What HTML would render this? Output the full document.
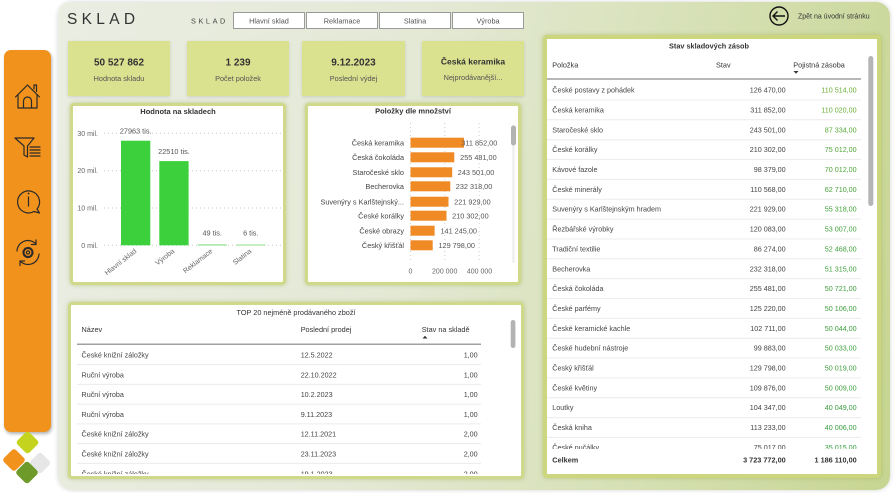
<!DOCTYPE html>
<html><head><meta charset="utf-8">
<style>
html,body{margin:0;padding:0;background:#fff;}
body{width:894px;height:493px;position:relative;overflow:hidden;font-family:"Liberation Sans",sans-serif;}
.abs{position:absolute;box-sizing:border-box;}
#main{left:58px;top:2px;width:832px;height:488px;border-radius:14px;background:linear-gradient(100deg,#eaede2 0%,#e4e9d6 40%,#d6e0b4 72%,#c7d592 100%);box-shadow:0 0 5px rgba(0,0,0,.18);}
#side{left:4px;top:50px;width:47px;height:382px;border-radius:7px;background:#f0921c;box-shadow:1px 2px 3px rgba(0,0,0,.3);}
.kpi{top:41px;height:55px;background:#dae18f;box-shadow:0 1px 3px rgba(0,0,0,.12);}
.pan{background:#fff;border:3px solid #d0d98a;border-radius:4px;box-shadow:0 0 4px rgba(140,160,50,.45);}
.btn{top:12px;height:17px;background:#fff;border:1px solid #9a9a9a;}
svg{position:absolute;left:0;top:0;}
</style></head><body>
<div class="abs" id="main"></div>
<div class="abs" id="side"></div>
<div class="abs kpi" style="left:68px;width:102px;"></div>
<div class="abs kpi" style="left:187px;width:102px;"></div>
<div class="abs kpi" style="left:302px;width:103px;"></div>
<div class="abs kpi" style="left:422px;width:102px;"></div>
<div class="abs btn" style="left:233px;width:72px;"></div>
<div class="abs btn" style="left:306px;width:72px;"></div>
<div class="abs btn" style="left:379px;width:72px;"></div>
<div class="abs btn" style="left:452px;width:72px;"></div>
<div class="abs pan" style="left:70px;top:103px;width:216px;height:182px;"></div>
<div class="abs pan" style="left:305px;top:103px;width:216px;height:182px;"></div>
<div class="abs pan" style="left:68px;top:302px;width:456px;height:177px;"></div>
<div class="abs pan" style="left:543px;top:35px;width:338px;height:443px;border-width:4px;border-color:#cbd67f;"></div>

<svg width="894" height="493" viewBox="0 0 894 493" font-family="Liberation Sans, sans-serif">
<defs>
<clipPath id="c1"><rect x="70" y="345" width="450" height="129"/></clipPath>
<clipPath id="c2"><rect x="545" y="80" width="330" height="369"/></clipPath>
</defs>

<!-- sidebar icons -->
<g fill="none" stroke="#2a2a2a" stroke-width="1.2" stroke-linejoin="round" stroke-linecap="round">
<path d="M15.5,97 L27.5,85 L39.5,97"/>
<path d="M18,95 V108 H37 V95"/>
<path d="M23.5,108 V101 a4,4 0 0 1 8,0 V108"/>
<path d="M34,89 V85 H36.5 V91.5"/>
<path d="M15,138 H34 L27.5,146 V157 L24,155 V146 Z"/>
<path d="M30,147 H40 M30,150 H40 M30,153 H40 M30,156 H40"/>
<path d="M37,209 A11,11 0 1 0 34,211.5 L39.5,213 Z"/>
<path d="M28.5,197 V206"/>
<path d="M17,251 A11,11 0 0 1 36,244"/><path d="M36,240 V244.5 H31.5"/>
<path d="M39,254 A11,11 0 0 1 20,261"/><path d="M20,265.5 V261 H24.5"/>
<circle cx="28" cy="252.5" r="4.5" stroke-dasharray="2 1.5" stroke-width="2.2"/>
<circle cx="28" cy="252.5" r="1.6"/>
</g>
<circle cx="28.5" cy="193.5" r="0.9" fill="#2a2a2a"/>

<!-- logo -->
<g>
<rect x="-8" y="-8" width="16" height="16" rx="3" fill="#e6e6e6" transform="translate(40,463) rotate(45)"/>
<rect x="-8.5" y="-8.5" width="17" height="17" rx="3" fill="#f0921c" transform="translate(14,460) rotate(45)"/>
<rect x="-8.5" y="-8.5" width="17" height="17" rx="3" fill="#c4d41e" transform="translate(27.5,442.5) rotate(45)"/>
<rect x="-8.5" y="-8.5" width="17" height="17" rx="3" fill="#6e9a2a" transform="translate(27,472.5) rotate(45)"/>
</g>

<!-- header -->
<text x="67" y="24" font-size="15.5" letter-spacing="4.3" fill="#333">SKLAD</text>
<text x="191" y="23.3" font-size="7.3" letter-spacing="2.6" fill="#444">SKLAD</text>
<g font-size="7.3" fill="#555" text-anchor="middle">
<text x="269" y="23.5">Hlavní sklad</text>
<text x="342" y="23.5">Reklamace</text>
<text x="415" y="23.5">Slatina</text>
<text x="488" y="23.5">Výroba</text>
</g>
<circle cx="779" cy="16" r="9" fill="none" stroke="#111" stroke-width="1.4"/>
<path d="M785,16 H773.5 M777.5,11.5 L773,16 L777.5,20.5" fill="none" stroke="#111" stroke-width="1.4"/>
<text x="798" y="18.5" font-size="7" fill="#333">Zpět na úvodní stránku</text>

<!-- KPI -->
<g text-anchor="middle">
<text x="119" y="65.5" font-size="10" font-weight="bold" fill="#333">50 527 862</text>
<text x="119" y="81" font-size="7.3" fill="#555">Hodnota skladu</text>
<text x="238" y="65.5" font-size="10" font-weight="bold" fill="#333">1 239</text>
<text x="238" y="81" font-size="7.3" fill="#555">Počet položek</text>
<text x="353.5" y="65.5" font-size="10" font-weight="bold" fill="#333">9.12.2023</text>
<text x="353.5" y="81" font-size="7.3" fill="#555">Poslední výdej</text>
<text x="473" y="64.5" font-size="8.5" font-weight="bold" fill="#333">Česká keramika</text>
<text x="473" y="80" font-size="7.3" fill="#555">Nejprodávanější...</text>
</g>

<!-- chart 1 -->
<text x="178" y="114" font-size="7.5" font-weight="bold" fill="#333" text-anchor="middle">Hodnota na skladech</text>
<g stroke="#c8c8c8" stroke-dasharray="1 3" stroke-width="1">
<line x1="104" y1="133.3" x2="282" y2="133.3"/>
<line x1="104" y1="170.7" x2="282" y2="170.7"/>
<line x1="104" y1="208" x2="282" y2="208"/>
<line x1="104" y1="245.3" x2="282" y2="245.3"/>
</g>
<g font-size="7" fill="#666" text-anchor="end">
<text x="98" y="135.8">30 mil.</text>
<text x="98" y="173.2">20 mil.</text>
<text x="98" y="210.5">10 mil.</text>
<text x="98" y="247.8">0 mil.</text>
</g>
<g fill="#3cd13c">
<rect x="121" y="140.7" width="29.3" height="104.6"/>
<rect x="159.3" y="161.1" width="29.3" height="84.2"/>
</g>
<g fill="#8fe08f">
<rect x="197.7" y="244.3" width="29" height="1.2"/>
<rect x="236.3" y="244.5" width="29" height="1"/>
</g>
<g font-size="7.3" fill="#555" text-anchor="middle">
<text x="135.7" y="133.7">27963 tis.</text>
<text x="174" y="154.2">22510 tis.</text>
<text x="212.2" y="235.7">49 tis.</text>
<text x="250.8" y="235.7">6 tis.</text>
</g>
<g font-size="7" fill="#666" text-anchor="end">
<text transform="translate(137,252) rotate(-38)">Hlavní sklad</text>
<text transform="translate(175,252) rotate(-38)">Výroba</text>
<text transform="translate(213,252) rotate(-38)">Reklamace</text>
<text transform="translate(252,252) rotate(-38)">Slatina</text>
</g>

<!-- chart 2 -->
<text x="413" y="113.5" font-size="7.5" font-weight="bold" fill="#333" text-anchor="middle">Položky dle množství</text>
<g stroke="#cfcfcf" stroke-dasharray="1 3">
<line x1="410.5" y1="123" x2="410.5" y2="263"/>
<line x1="444.7" y1="123" x2="444.7" y2="263"/>
<line x1="479.2" y1="123" x2="479.2" y2="263"/>
</g>
<g fill="#f08a24">
<rect x="410.5" y="137.7" width="53.5" height="10"/>
<rect x="410.5" y="152.3" width="43.8" height="10"/>
<rect x="410.5" y="167.3" width="41.7" height="10"/>
<rect x="410.5" y="181.3" width="39.8" height="10"/>
<rect x="410.5" y="196.7" width="38" height="10"/>
<rect x="410.5" y="210.7" width="36" height="10"/>
<rect x="410.5" y="225.7" width="24.1" height="10"/>
<rect x="410.5" y="240.3" width="22.2" height="10"/>
</g>
<g font-size="7.3" fill="#444" text-anchor="end">
<text x="404" y="145.3">Česká keramika</text>
<text x="404" y="159.9">Česká čokoláda</text>
<text x="404" y="174.9">Staročeské sklo</text>
<text x="404" y="188.9">Becherovka</text>
<text x="404" y="204.3">Suvenýry s Karlštejnský...</text>
<text x="404" y="218.3">České korálky</text>
<text x="404" y="233.3">České obrazy</text>
<text x="404" y="247.9">Český křišťál</text>
</g>
<g font-size="7.3" fill="#555" text-anchor="end">
<text x="497.3" y="145.3">311 852,00</text>
<text x="496.7" y="159.9">255 481,00</text>
<text x="494.3" y="174.9">243 501,00</text>
<text x="492.3" y="188.9">232 318,00</text>
<text x="490.7" y="204.3">221 929,00</text>
<text x="488.7" y="218.3">210 302,00</text>
<text x="477" y="233.3">141 245,00</text>
<text x="475" y="247.9">129 798,00</text>
</g>
<g font-size="7" fill="#666" text-anchor="middle">
<text x="410.5" y="273.3">0</text>
<text x="444.7" y="273.3">200 000</text>
<text x="479.5" y="273.3">400 000</text>
</g>
<rect x="512.2" y="125" width="2.5" height="138" rx="1" fill="#efefef"/>
<rect x="511" y="125.5" width="5" height="20" rx="2.5" fill="#b3b3b3"/>

<!-- TOP 20 table -->
<text x="296" y="314.8" font-size="7.3" fill="#333" text-anchor="middle">TOP 20 nejméně prodávaného zboží</text>
<g font-size="7.3" fill="#333">
<text x="81.5" y="331.8">Název</text>
<text x="300.7" y="331.8">Poslední prodej</text>
<text x="421.7" y="331.8">Stav na skladě</text>
</g>
<path d="M422.5,338.5 L425,335.8 L427.5,338.5 Z" fill="#333"/>
<line x1="77" y1="344.3" x2="481" y2="344.3" stroke="#a0a0a0" stroke-width="1.5"/>
<g stroke="#ececec" stroke-width="1">
<line x1="77" y1="364.6" x2="481" y2="364.6"/>
<line x1="77" y1="384.4" x2="481" y2="384.4"/>
<line x1="77" y1="404.1" x2="481" y2="404.1"/>
<line x1="77" y1="423.9" x2="481" y2="423.9"/>
<line x1="77" y1="443.6" x2="481" y2="443.6"/>
<line x1="77" y1="463.4" x2="481" y2="463.4"/>
</g>
<g font-size="7.2" fill="#444" clip-path="url(#c1)">
<text x="81.5" y="357.6">České knižní záložky</text><text x="300.7" y="357.6">12.5.2022</text><text x="477.7" y="357.6" text-anchor="end">1,00</text>
<text x="81.5" y="377.4">Ruční výroba</text><text x="300.7" y="377.4">22.10.2022</text><text x="477.7" y="377.4" text-anchor="end">1,00</text>
<text x="81.5" y="397.1">Ruční výroba</text><text x="300.7" y="397.1">10.2.2023</text><text x="477.7" y="397.1" text-anchor="end">1,00</text>
<text x="81.5" y="416.9">Ruční výroba</text><text x="300.7" y="416.9">9.11.2023</text><text x="477.7" y="416.9" text-anchor="end">1,00</text>
<text x="81.5" y="436.6">České knižní záložky</text><text x="300.7" y="436.6">12.11.2021</text><text x="477.7" y="436.6" text-anchor="end">2,00</text>
<text x="81.5" y="456.4">České knižní záložky</text><text x="300.7" y="456.4">23.11.2023</text><text x="477.7" y="456.4" text-anchor="end">2,00</text>
<text x="81.5" y="476.3">České knižní záložky</text><text x="300.7" y="476.3">19.1.2023</text><text x="477.7" y="476.3" text-anchor="end">2,00</text>
</g>
<rect x="510.7" y="320" width="4.7" height="28" rx="2.3" fill="#b3b3b3"/>

<!-- right table -->
<text x="709" y="48.7" font-size="7.3" font-weight="bold" fill="#333" text-anchor="middle">Stav skladových zásob</text>
<g font-size="7.3" fill="#333">
<text x="552.3" y="67.5">Položka</text>
<text x="716" y="67.5">Stav</text>
<text x="793.3" y="67.5">Pojistná zásoba</text>
</g>
<path d="M793.5,71 L796,73.7 L798.5,71 Z" fill="#333"/>
<line x1="547" y1="79" x2="861" y2="79" stroke="#a0a0a0" stroke-width="1.5"/>
<g stroke="#ececec" stroke-width="1">
<line x1="547" y1="100" x2="861" y2="100"/><line x1="547" y1="119.8" x2="861" y2="119.8"/>
<line x1="547" y1="139.7" x2="861" y2="139.7"/><line x1="547" y1="159.5" x2="861" y2="159.5"/>
<line x1="547" y1="179.4" x2="861" y2="179.4"/><line x1="547" y1="199.3" x2="861" y2="199.3"/>
<line x1="547" y1="219.1" x2="861" y2="219.1"/><line x1="547" y1="239" x2="861" y2="239"/>
<line x1="547" y1="258.8" x2="861" y2="258.8"/><line x1="547" y1="278.6" x2="861" y2="278.6"/>
<line x1="547" y1="298.5" x2="861" y2="298.5"/><line x1="547" y1="318.4" x2="861" y2="318.4"/>
<line x1="547" y1="338.2" x2="861" y2="338.2"/><line x1="547" y1="358" x2="861" y2="358"/>
<line x1="547" y1="377.9" x2="861" y2="377.9"/><line x1="547" y1="397.7" x2="861" y2="397.7"/>
<line x1="547" y1="417.6" x2="861" y2="417.6"/><line x1="547" y1="437.4" x2="861" y2="437.4"/>
</g>
<g font-size="7.2" clip-path="url(#c2)">
<g fill="#444">
<text x="552.3" y="92.6">České postavy z pohádek</text>
<text x="552.3" y="112.4">Česká keramika</text>
<text x="552.3" y="132.3">Staročeské sklo</text>
<text x="552.3" y="152.1">České korálky</text>
<text x="552.3" y="172">Kávové fazole</text>
<text x="552.3" y="191.8">České minerály</text>
<text x="552.3" y="211.7">Suvenýry s Karlštejnským hradem</text>
<text x="552.3" y="231.6">Řezbářské výrobky</text>
<text x="552.3" y="251.4">Tradiční textilie</text>
<text x="552.3" y="271.3">Becherovka</text>
<text x="552.3" y="291.1">Česká čokoláda</text>
<text x="552.3" y="311">České parfémy</text>
<text x="552.3" y="330.8">České keramické kachle</text>
<text x="552.3" y="350.6">České hudební nástroje</text>
<text x="552.3" y="370.5">Český křišťál</text>
<text x="552.3" y="390.3">České květiny</text>
<text x="552.3" y="410.2">Loutky</text>
<text x="552.3" y="430">Česká kniha</text>
<text x="552.3" y="450.2">České pučálky</text>
</g>
<g fill="#444" text-anchor="end">
<text x="785.7" y="92.6">126 470,00</text>
<text x="785.7" y="112.4">311 852,00</text>
<text x="785.7" y="132.3">243 501,00</text>
<text x="785.7" y="152.1">210 302,00</text>
<text x="785.7" y="172">98 379,00</text>
<text x="785.7" y="191.8">110 568,00</text>
<text x="785.7" y="211.7">221 929,00</text>
<text x="785.7" y="231.6">120 083,00</text>
<text x="785.7" y="251.4">86 274,00</text>
<text x="785.7" y="271.3">232 318,00</text>
<text x="785.7" y="291.1">255 481,00</text>
<text x="785.7" y="311">125 220,00</text>
<text x="785.7" y="330.8">102 711,00</text>
<text x="785.7" y="350.6">99 883,00</text>
<text x="785.7" y="370.5">129 798,00</text>
<text x="785.7" y="390.3">109 876,00</text>
<text x="785.7" y="410.2">104 347,00</text>
<text x="785.7" y="430">113 233,00</text>
<text x="785.7" y="450.2">75 017,00</text>
</g>
<g text-anchor="end">
<text x="856.7" y="92.6" fill="#6aae35">110 514,00</text>
<text x="856.7" y="112.4" fill="#68ad36">110 020,00</text>
<text x="856.7" y="132.3" fill="#58a838">87 334,00</text>
<text x="856.7" y="152.1" fill="#52a63a">75 012,00</text>
<text x="856.7" y="172" fill="#4ea53a">70 012,00</text>
<text x="856.7" y="191.8" fill="#48a23b">62 710,00</text>
<text x="856.7" y="211.7" fill="#44a13c">55 318,00</text>
<text x="856.7" y="231.6" fill="#42a03c">53 007,00</text>
<text x="856.7" y="251.4" fill="#42a03c">52 468,00</text>
<text x="856.7" y="271.3" fill="#409f3c">51 315,00</text>
<text x="856.7" y="291.1" fill="#409f3c">50 721,00</text>
<text x="856.7" y="311" fill="#3f9f3d">50 106,00</text>
<text x="856.7" y="330.8" fill="#3f9f3d">50 044,00</text>
<text x="856.7" y="350.6" fill="#3f9f3d">50 033,00</text>
<text x="856.7" y="370.5" fill="#3f9f3d">50 019,00</text>
<text x="856.7" y="390.3" fill="#3f9f3d">50 009,00</text>
<text x="856.7" y="410.2" fill="#3a9d3e">40 049,00</text>
<text x="856.7" y="430" fill="#3a9d3e">40 006,00</text>
<text x="856.7" y="450.2" fill="#389c40">35 015,00</text>
</g>
</g>
<g font-size="7.3" font-weight="bold" fill="#333">
<text x="552.3" y="462.7">Celkem</text>
<text x="785.7" y="462.7" text-anchor="end">3 723 772,00</text>
<text x="856.7" y="462.7" text-anchor="end">1 186 110,00</text>
</g>
<rect x="868.3" y="56" width="5" height="150" rx="2.5" fill="#b5b5b5"/>
</svg>
</body></html>
